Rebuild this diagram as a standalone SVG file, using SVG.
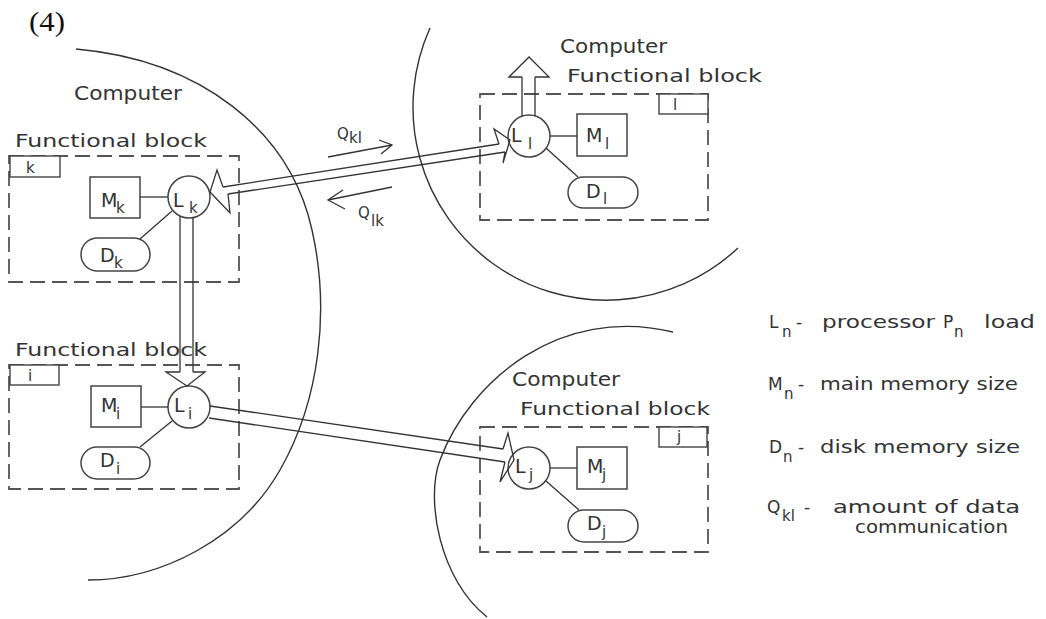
<svg xmlns="http://www.w3.org/2000/svg" width="1046" height="619" viewBox="0 0 1046 619">
<style>
.ln{stroke:#333;stroke-width:1.3;fill:none}
.arc{stroke:#333;stroke-width:1.4;fill:none}
.dash{stroke:#555;stroke-width:1.8;fill:none;stroke-dasharray:15 7}
.box{stroke:#444;stroke-width:1.5;fill:#fff}
.tag{stroke:#444;stroke-width:1.4;fill:#fff}
.t{font-family:"DejaVu Sans",sans-serif;fill:#333}
.big{font-size:19px}
.fb{font-size:17px}
.n{font-size:19px}
.s{font-size:15px}
.lg{font-size:17px}
</style>
<rect width="1046" height="619" fill="#fff"/>
<text x="29" y="31" font-family="Liberation Serif,serif" font-size="27" fill="#111" textLength="36" lengthAdjust="spacingAndGlyphs">(4)</text>

<g id="computers">
<path class="arc" d="M76,49 C200,60 290,130 312,230 C330,310 320,400 280,470 C240,540 160,580 88,580"/>
<path class="arc" d="M430,28 A193,193 0 0 0 738,248"/>
<path class="arc" d="M673,332 C560,305 470,380 440,460 C425,500 440,580 487,617"/>
<text class="t big" x="74" y="100" textLength="108" lengthAdjust="spacingAndGlyphs">Computer</text>
<text class="t big" x="560" y="53" textLength="107" lengthAdjust="spacingAndGlyphs">Computer</text>
<text class="t big" x="512" y="386" textLength="108" lengthAdjust="spacingAndGlyphs">Computer</text>
</g>

<g id="block-k">
<text class="t fb" x="15" y="147" textLength="192" lengthAdjust="spacingAndGlyphs">Functional block</text>
<rect class="dash" x="9" y="156" width="230" height="126"/>
<rect class="tag" x="10" y="156" width="50" height="21"/>
<text class="t s" x="26" y="173">k</text>
</g>
<g id="M_k"><rect class="box" x="90" y="177" width="50" height="41"/><text class="t n" x="101" y="207">M<tspan class="s" x="116" y="213">k</tspan></text></g>
<g id="L_k"><circle class="box" cx="189" cy="197" r="21"/><text class="t n" x="173" y="207">L<tspan class="s" x="189" y="213">k</tspan></text></g>
<g id="D_k"><rect class="box" x="81" y="238" width="69" height="33" rx="16.5"/><text class="t n" x="100" y="262">D<tspan class="s" x="114" y="268">k</tspan></text></g>

<g id="block-i">
<text class="t fb" x="15" y="356" textLength="192" lengthAdjust="spacingAndGlyphs">Functional block</text>
<rect class="dash" x="9" y="365" width="230" height="124"/>
<rect class="tag" x="10" y="365" width="49" height="20"/>
<text class="t s" x="28" y="381">i</text>
</g>
<g id="M_i"><rect class="box" x="91" y="386" width="50" height="41"/><text class="t n" x="101" y="412">M<tspan class="s" x="116" y="419">i</tspan></text></g>
<g id="L_i"><circle class="box" cx="189" cy="407" r="21"/><text class="t n" x="174" y="412">L<tspan class="s" x="188" y="419">i</tspan></text></g>
<g id="D_i"><rect class="box" x="81" y="447" width="69" height="32" rx="16"/><text class="t n" x="100" y="467">D<tspan class="s" x="116" y="474">i</tspan></text></g>

<g id="block-l">
<text class="t fb" x="567" y="82" textLength="195" lengthAdjust="spacingAndGlyphs">Functional block</text>
<rect class="dash" x="480" y="94" width="228" height="126"/>
<rect class="tag" x="659" y="94" width="49" height="20"/>
<text class="t s" x="673" y="110">l</text>
</g>
<g id="L_l"><circle class="box" cx="529" cy="136" r="21"/><text class="t n" x="511" y="142">L<tspan class="s" x="528" y="149">l</tspan></text></g>
<g id="M_l"><rect class="box" x="577" y="114" width="50" height="42"/><text class="t n" x="586" y="142">M<tspan class="s" x="605" y="149">l</tspan></text></g>
<g id="D_l"><rect class="box" x="568" y="177" width="70" height="31" rx="15.5"/><text class="t n" x="586" y="198">D<tspan class="s" x="603" y="204">l</tspan></text></g>

<g id="block-j">
<text class="t fb" x="520" y="415" textLength="190" lengthAdjust="spacingAndGlyphs">Functional block</text>
<rect class="dash" x="480" y="427" width="228" height="125"/>
<rect class="tag" x="659" y="427" width="48" height="20"/>
<text class="t s" x="677" y="442">j</text>
</g>
<g id="L_j"><circle class="box" cx="529" cy="468" r="21"/><text class="t n" x="515" y="473">L<tspan class="s" x="529" y="480">j</tspan></text></g>
<g id="M_j"><rect class="box" x="577" y="447" width="50" height="42"/><text class="t n" x="587" y="473">M<tspan class="s" x="602" y="480">j</tspan></text></g>
<g id="D_j"><rect class="box" x="568" y="510" width="70" height="32" rx="16"/><text class="t n" x="587" y="530">D<tspan class="s" x="602" y="537">j</tspan></text></g>

<g id="connectors">
<line class="ln" x1="140" y1="197" x2="168" y2="197"/>
<line class="ln" x1="140" y1="239" x2="172" y2="211"/>
<line class="ln" x1="141" y1="407" x2="168" y2="407"/>
<line class="ln" x1="140" y1="447" x2="172" y2="421"/>
<line class="ln" x1="550" y1="136" x2="577" y2="136"/>
<line class="ln" x1="546" y1="148" x2="578" y2="177"/>
<line class="ln" x1="550" y1="468" x2="577" y2="468"/>
<line class="ln" x1="546" y1="481" x2="579" y2="510"/>
<line class="ln" x1="223" y1="187" x2="499" y2="144"/>
<line class="ln" x1="228" y1="194" x2="505" y2="152"/>
<polyline class="ln" points="223,187 217,170 210,192 230,213 228,194"/>
<polyline class="ln" points="499,144 494,129 510,140 503,163 505,152"/>
<line class="ln" x1="180" y1="216" x2="180" y2="372"/>
<line class="ln" x1="193" y1="217" x2="193" y2="372"/>
<polyline class="ln" points="180,372 166,372 187,386 205,372 193,372"/>
<line class="ln" x1="522" y1="116" x2="522" y2="77"/>
<line class="ln" x1="535" y1="116" x2="535" y2="77"/>
<polyline class="ln" points="522,77 509,77 529,57 549,77 535,77"/>
<line class="ln" x1="210" y1="406" x2="503" y2="449"/>
<line class="ln" x1="209" y1="418" x2="505" y2="462"/>
<polyline class="ln" points="503,449 508,433 514,460 500,482 505,462"/>
<line class="ln" x1="328" y1="157" x2="392" y2="145"/>
<polyline class="ln" points="379,140 392,145 381,154"/>
<line class="ln" x1="392" y1="187" x2="328" y2="200"/>
<polyline class="ln" points="343,190 328,200 345,209"/>
<text class="t" font-size="15" x="337" y="139">Q<tspan x="349" y="143">kl</tspan></text>
<text class="t" font-size="15" x="358" y="218">Q<tspan x="371" y="226">lk</tspan></text>
</g>

<g id="legend">
<text class="t lg" x="769" y="328">L</text><text class="t s" x="782" y="337">n</text><text class="t lg" x="796" y="328">-</text>
<text class="t lg" x="822" y="328" textLength="113" lengthAdjust="spacingAndGlyphs">processor</text>
<text class="t lg" x="943" y="328">P</text><text class="t s" x="954" y="337">n</text>
<text class="t lg" x="984" y="328" textLength="51" lengthAdjust="spacingAndGlyphs">load</text>
<text class="t lg" x="768" y="390">M</text><text class="t s" x="784" y="399">n</text><text class="t lg" x="798" y="390">-</text>
<text class="t lg" x="820" y="390" textLength="198" lengthAdjust="spacingAndGlyphs">main memory size</text>
<text class="t lg" x="769" y="453">D</text><text class="t s" x="783" y="462">n</text><text class="t lg" x="798" y="453">-</text>
<text class="t lg" x="820" y="453" textLength="200" lengthAdjust="spacingAndGlyphs">disk memory size</text>
<text class="t lg" x="767" y="513">Q</text><text class="t s" x="782" y="521">kl</text><text class="t lg" x="804" y="513">-</text>
<text class="t lg" x="833" y="513" textLength="187" lengthAdjust="spacingAndGlyphs">amount of data</text>
<text class="t lg" x="855" y="533" textLength="153" lengthAdjust="spacingAndGlyphs">communication</text>
</g>
</svg>
